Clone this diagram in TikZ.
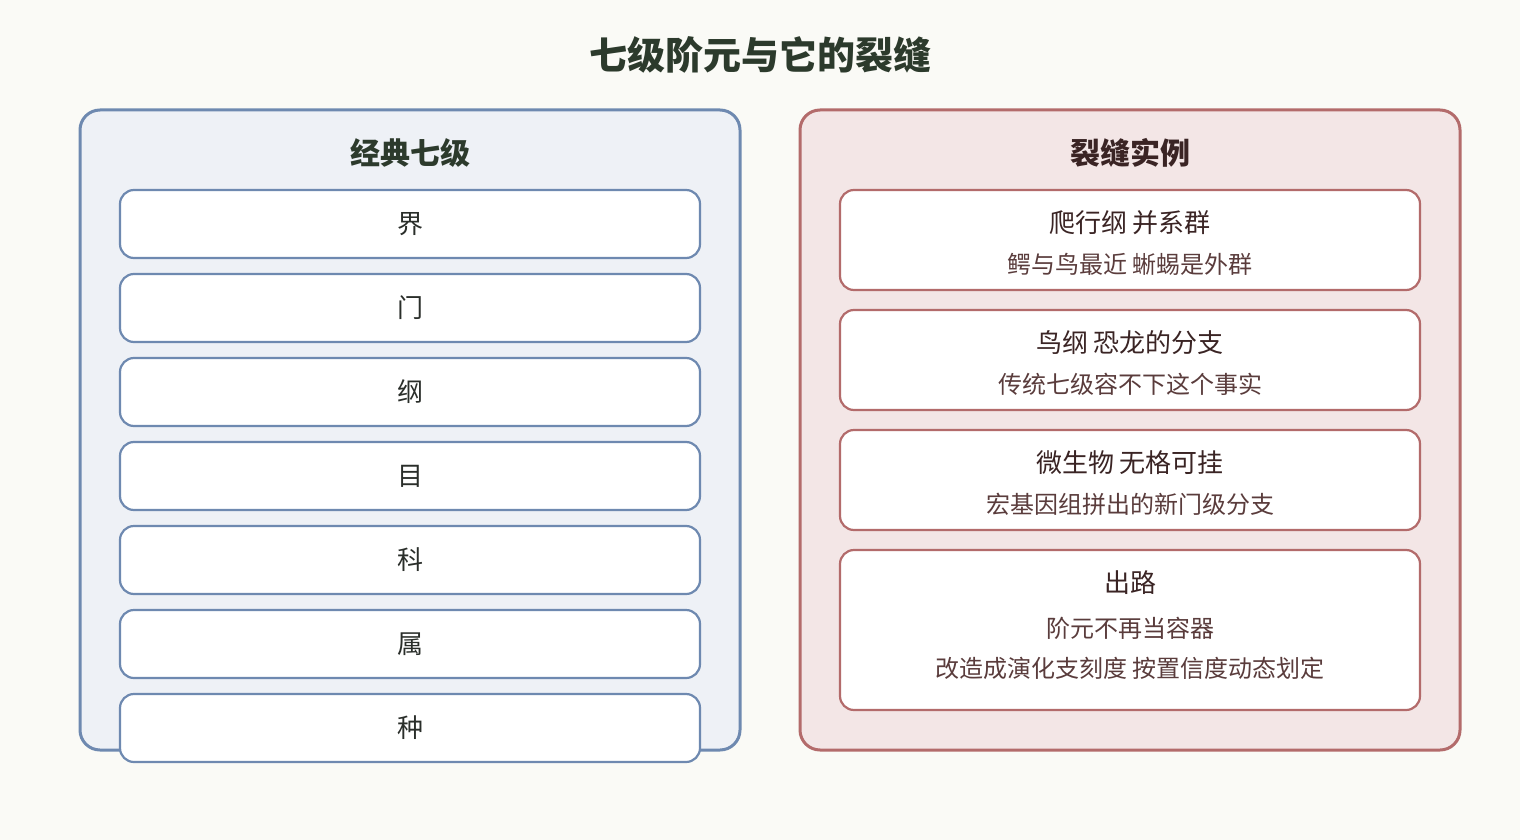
\documentclass[tikz,border=0pt]{standalone}
\usepackage{fontspec}
\setmainfont{Noto Sans CJK SC}
\definecolor{bg}{HTML}{FAFAF6}
\definecolor{blueline}{HTML}{6E89B0}
\definecolor{bluefill}{HTML}{EEF1F6}
\definecolor{redline}{HTML}{B36B6B}
\definecolor{redfill}{HTML}{F3E6E6}
\definecolor{titlecol}{HTML}{2C3A2C}
\definecolor{lefttext}{HTML}{2A2E2A}
\definecolor{righttitle}{HTML}{3A2424}
\definecolor{rightsub}{HTML}{5A3C3C}
\begin{document}
\begin{tikzpicture}[x=1pt,y=1pt,
  panelL/.style={draw=blueline,fill=bluefill,line width=3pt,rounded corners=20pt,minimum width=660pt,minimum height=640pt,inner sep=0pt},
  panelR/.style={draw=redline,fill=redfill,line width=3pt,rounded corners=20pt,minimum width=660pt,minimum height=640pt,inner sep=0pt},
  rankbox/.style={draw=blueline,fill=white,line width=2.2pt,rounded corners=14pt,minimum width=580pt,minimum height=68pt,inner sep=0pt,font=\fontsize{26}{30}\selectfont,text=lefttext},
  casebox/.style={draw=redline,fill=white,line width=2.2pt,rounded corners=14pt,minimum width=580pt,inner sep=0pt},
  ptitle/.style={font=\bfseries\fontsize{30}{34}\selectfont},
  ctitle/.style={font=\fontsize{26}{30}\selectfont,text=righttitle},
  csub/.style={font=\fontsize{24}{28}\selectfont,text=rightsub}
]
\fill[bg] (0,0) rectangle (1520,-840);
\useasboundingbox (0,0) rectangle (1520,-840);
\node[font=\bfseries\fontsize{38}{42}\selectfont,text=titlecol] (title) at (760,-55) {七级阶元与它的裂缝};
% left panel
\node[panelL] (left) at (410,-430) {};
\node[ptitle,text=titlecol] (lefttitle) at (410,-153) {经典七级};
\node[rankbox] (r1) at (410,-224) {界};
\node[rankbox] (r2) at (410,-308) {门};
\node[rankbox] (r3) at (410,-392) {纲};
\node[rankbox] (r4) at (410,-476) {目};
\node[rankbox] (r5) at (410,-560) {科};
\node[rankbox] (r6) at (410,-644) {属};
\node[rankbox] (r7) at (410,-728) {种};
% right panel
\node[panelR] (right) at (1130,-430) {};
\node[ptitle,text=righttitle] (righttitle) at (1130,-153) {裂缝实例};
\node[casebox,minimum height=100pt] (c1) at (1130,-240) {};
\node[ctitle] (c1a) at (1130,-223) {爬行纲 并系群};
\node[csub] (c1b) at (1130,-264) {鳄与鸟最近 蜥蜴是外群};
\node[casebox,minimum height=100pt] (c2) at (1130,-360) {};
\node[ctitle] (c2a) at (1130,-343) {鸟纲 恐龙的分支};
\node[csub] (c2b) at (1130,-384) {传统七级容不下这个事实};
\node[casebox,minimum height=100pt] (c3) at (1130,-480) {};
\node[ctitle] (c3a) at (1130,-463) {微生物 无格可挂};
\node[csub] (c3b) at (1130,-504) {宏基因组拼出的新门级分支};
\node[casebox,minimum height=160pt] (c4) at (1130,-630) {};
\node[ctitle] (c4a) at (1130,-583) {出路};
\node[csub] (c4b) at (1130,-628) {阶元不再当容器};
\node[csub] (c4c) at (1130,-668) {改造成演化支刻度 按置信度动态划定};
\end{tikzpicture}
\end{document}
